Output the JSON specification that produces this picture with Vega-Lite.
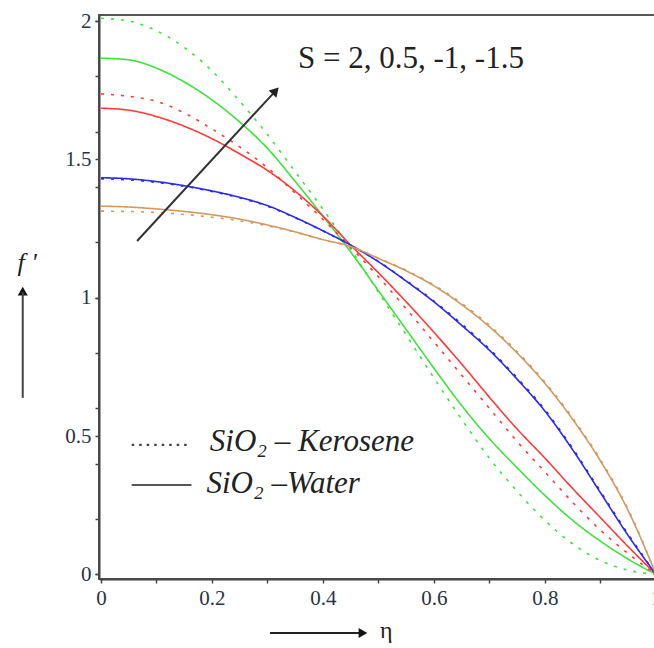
{
  "$schema": "https://vega.github.io/schema/vega-lite/v6.json",
  "width": 557,
  "height": 564,
  "autosize": {"type": "none"},
  "padding": {"left": 99, "top": 15, "right": 0, "bottom": 69},
  "background": "white",
  "config": {
    "font": "Liberation Serif",
    "view": {"stroke": "#555", "strokeWidth": 2},
    "axis": {"labelOverlap": false, "labelSeparation": 0, "labelBound": false, "grid": false}
  },
  "datasets": {
    "curves": [
      {"S": "-1.5", "fluid": "Kerosene", "eta": 0.0, "f": 2.01},
      {"S": "-1.5", "fluid": "Kerosene", "eta": 0.05, "f": 2.0},
      {"S": "-1.5", "fluid": "Kerosene", "eta": 0.1, "f": 1.965},
      {"S": "-1.5", "fluid": "Kerosene", "eta": 0.15, "f": 1.905},
      {"S": "-1.5", "fluid": "Kerosene", "eta": 0.2, "f": 1.82},
      {"S": "-1.5", "fluid": "Kerosene", "eta": 0.25, "f": 1.71},
      {"S": "-1.5", "fluid": "Kerosene", "eta": 0.3, "f": 1.59},
      {"S": "-1.5", "fluid": "Kerosene", "eta": 0.35, "f": 1.455},
      {"S": "-1.5", "fluid": "Kerosene", "eta": 0.4, "f": 1.32},
      {"S": "-1.5", "fluid": "Kerosene", "eta": 0.45, "f": 1.175},
      {"S": "-1.5", "fluid": "Kerosene", "eta": 0.5, "f": 1.02},
      {"S": "-1.5", "fluid": "Kerosene", "eta": 0.55, "f": 0.865},
      {"S": "-1.5", "fluid": "Kerosene", "eta": 0.6, "f": 0.71},
      {"S": "-1.5", "fluid": "Kerosene", "eta": 0.65, "f": 0.56},
      {"S": "-1.5", "fluid": "Kerosene", "eta": 0.7, "f": 0.42},
      {"S": "-1.5", "fluid": "Kerosene", "eta": 0.75, "f": 0.3},
      {"S": "-1.5", "fluid": "Kerosene", "eta": 0.8, "f": 0.195},
      {"S": "-1.5", "fluid": "Kerosene", "eta": 0.85, "f": 0.11},
      {"S": "-1.5", "fluid": "Kerosene", "eta": 0.9, "f": 0.05},
      {"S": "-1.5", "fluid": "Kerosene", "eta": 0.95, "f": 0.015},
      {"S": "-1.5", "fluid": "Kerosene", "eta": 1.0, "f": 0.0},
      {"S": "-1.5", "fluid": "Water", "eta": 0.0, "f": 1.866},
      {"S": "-1.5", "fluid": "Water", "eta": 0.05, "f": 1.86},
      {"S": "-1.5", "fluid": "Water", "eta": 0.1, "f": 1.83},
      {"S": "-1.5", "fluid": "Water", "eta": 0.15, "f": 1.78},
      {"S": "-1.5", "fluid": "Water", "eta": 0.2, "f": 1.715},
      {"S": "-1.5", "fluid": "Water", "eta": 0.25, "f": 1.635},
      {"S": "-1.5", "fluid": "Water", "eta": 0.3, "f": 1.54},
      {"S": "-1.5", "fluid": "Water", "eta": 0.35, "f": 1.42},
      {"S": "-1.5", "fluid": "Water", "eta": 0.4, "f": 1.295},
      {"S": "-1.5", "fluid": "Water", "eta": 0.45, "f": 1.165},
      {"S": "-1.5", "fluid": "Water", "eta": 0.5, "f": 1.025},
      {"S": "-1.5", "fluid": "Water", "eta": 0.55, "f": 0.885},
      {"S": "-1.5", "fluid": "Water", "eta": 0.6, "f": 0.745},
      {"S": "-1.5", "fluid": "Water", "eta": 0.65, "f": 0.61},
      {"S": "-1.5", "fluid": "Water", "eta": 0.7, "f": 0.49},
      {"S": "-1.5", "fluid": "Water", "eta": 0.75, "f": 0.385},
      {"S": "-1.5", "fluid": "Water", "eta": 0.8, "f": 0.285},
      {"S": "-1.5", "fluid": "Water", "eta": 0.85, "f": 0.195},
      {"S": "-1.5", "fluid": "Water", "eta": 0.9, "f": 0.12},
      {"S": "-1.5", "fluid": "Water", "eta": 0.95, "f": 0.055},
      {"S": "-1.5", "fluid": "Water", "eta": 1.0, "f": 0.0},
      {"S": "-1", "fluid": "Kerosene", "eta": 0.0, "f": 1.737},
      {"S": "-1", "fluid": "Kerosene", "eta": 0.05, "f": 1.728},
      {"S": "-1", "fluid": "Kerosene", "eta": 0.1, "f": 1.71},
      {"S": "-1", "fluid": "Kerosene", "eta": 0.15, "f": 1.668},
      {"S": "-1", "fluid": "Kerosene", "eta": 0.2, "f": 1.61},
      {"S": "-1", "fluid": "Kerosene", "eta": 0.25, "f": 1.545},
      {"S": "-1", "fluid": "Kerosene", "eta": 0.3, "f": 1.47},
      {"S": "-1", "fluid": "Kerosene", "eta": 0.35, "f": 1.378},
      {"S": "-1", "fluid": "Kerosene", "eta": 0.4, "f": 1.283},
      {"S": "-1", "fluid": "Kerosene", "eta": 0.45, "f": 1.182},
      {"S": "-1", "fluid": "Kerosene", "eta": 0.5, "f": 1.075},
      {"S": "-1", "fluid": "Kerosene", "eta": 0.55, "f": 0.96},
      {"S": "-1", "fluid": "Kerosene", "eta": 0.6, "f": 0.84},
      {"S": "-1", "fluid": "Kerosene", "eta": 0.65, "f": 0.72},
      {"S": "-1", "fluid": "Kerosene", "eta": 0.7, "f": 0.6},
      {"S": "-1", "fluid": "Kerosene", "eta": 0.75, "f": 0.48},
      {"S": "-1", "fluid": "Kerosene", "eta": 0.8, "f": 0.37},
      {"S": "-1", "fluid": "Kerosene", "eta": 0.85, "f": 0.26},
      {"S": "-1", "fluid": "Kerosene", "eta": 0.9, "f": 0.16},
      {"S": "-1", "fluid": "Kerosene", "eta": 0.95, "f": 0.075},
      {"S": "-1", "fluid": "Kerosene", "eta": 1.0, "f": 0.0},
      {"S": "-1", "fluid": "Water", "eta": 0.0, "f": 1.685},
      {"S": "-1", "fluid": "Water", "eta": 0.05, "f": 1.678},
      {"S": "-1", "fluid": "Water", "eta": 0.1, "f": 1.655},
      {"S": "-1", "fluid": "Water", "eta": 0.15, "f": 1.62},
      {"S": "-1", "fluid": "Water", "eta": 0.2, "f": 1.575},
      {"S": "-1", "fluid": "Water", "eta": 0.25, "f": 1.52},
      {"S": "-1", "fluid": "Water", "eta": 0.3, "f": 1.46},
      {"S": "-1", "fluid": "Water", "eta": 0.35, "f": 1.385},
      {"S": "-1", "fluid": "Water", "eta": 0.4, "f": 1.295},
      {"S": "-1", "fluid": "Water", "eta": 0.45, "f": 1.19},
      {"S": "-1", "fluid": "Water", "eta": 0.5, "f": 1.09},
      {"S": "-1", "fluid": "Water", "eta": 0.55, "f": 0.985},
      {"S": "-1", "fluid": "Water", "eta": 0.6, "f": 0.875},
      {"S": "-1", "fluid": "Water", "eta": 0.65, "f": 0.76},
      {"S": "-1", "fluid": "Water", "eta": 0.7, "f": 0.64},
      {"S": "-1", "fluid": "Water", "eta": 0.75, "f": 0.525},
      {"S": "-1", "fluid": "Water", "eta": 0.8, "f": 0.42},
      {"S": "-1", "fluid": "Water", "eta": 0.85, "f": 0.31},
      {"S": "-1", "fluid": "Water", "eta": 0.9, "f": 0.205},
      {"S": "-1", "fluid": "Water", "eta": 0.95, "f": 0.1},
      {"S": "-1", "fluid": "Water", "eta": 1.0, "f": 0.0},
      {"S": "0.5", "fluid": "Kerosene", "eta": 0.0, "f": 1.43},
      {"S": "0.5", "fluid": "Kerosene", "eta": 0.05, "f": 1.426},
      {"S": "0.5", "fluid": "Kerosene", "eta": 0.1, "f": 1.417},
      {"S": "0.5", "fluid": "Kerosene", "eta": 0.15, "f": 1.403},
      {"S": "0.5", "fluid": "Kerosene", "eta": 0.2, "f": 1.384},
      {"S": "0.5", "fluid": "Kerosene", "eta": 0.25, "f": 1.361},
      {"S": "0.5", "fluid": "Kerosene", "eta": 0.3, "f": 1.331},
      {"S": "0.5", "fluid": "Kerosene", "eta": 0.35, "f": 1.289},
      {"S": "0.5", "fluid": "Kerosene", "eta": 0.4, "f": 1.241},
      {"S": "0.5", "fluid": "Kerosene", "eta": 0.45, "f": 1.19},
      {"S": "0.5", "fluid": "Kerosene", "eta": 0.5, "f": 1.131},
      {"S": "0.5", "fluid": "Kerosene", "eta": 0.55, "f": 1.062},
      {"S": "0.5", "fluid": "Kerosene", "eta": 0.6, "f": 0.988},
      {"S": "0.5", "fluid": "Kerosene", "eta": 0.65, "f": 0.905},
      {"S": "0.5", "fluid": "Kerosene", "eta": 0.7, "f": 0.815},
      {"S": "0.5", "fluid": "Kerosene", "eta": 0.75, "f": 0.71},
      {"S": "0.5", "fluid": "Kerosene", "eta": 0.8, "f": 0.595},
      {"S": "0.5", "fluid": "Kerosene", "eta": 0.85, "f": 0.455},
      {"S": "0.5", "fluid": "Kerosene", "eta": 0.9, "f": 0.3},
      {"S": "0.5", "fluid": "Kerosene", "eta": 0.95, "f": 0.145},
      {"S": "0.5", "fluid": "Kerosene", "eta": 1.0, "f": 0.0},
      {"S": "0.5", "fluid": "Water", "eta": 0.0, "f": 1.434},
      {"S": "0.5", "fluid": "Water", "eta": 0.05, "f": 1.43},
      {"S": "0.5", "fluid": "Water", "eta": 0.1, "f": 1.42},
      {"S": "0.5", "fluid": "Water", "eta": 0.15, "f": 1.405},
      {"S": "0.5", "fluid": "Water", "eta": 0.2, "f": 1.386},
      {"S": "0.5", "fluid": "Water", "eta": 0.25, "f": 1.363},
      {"S": "0.5", "fluid": "Water", "eta": 0.3, "f": 1.333},
      {"S": "0.5", "fluid": "Water", "eta": 0.35, "f": 1.29},
      {"S": "0.5", "fluid": "Water", "eta": 0.4, "f": 1.242},
      {"S": "0.5", "fluid": "Water", "eta": 0.45, "f": 1.19},
      {"S": "0.5", "fluid": "Water", "eta": 0.5, "f": 1.13},
      {"S": "0.5", "fluid": "Water", "eta": 0.55, "f": 1.06},
      {"S": "0.5", "fluid": "Water", "eta": 0.6, "f": 0.985},
      {"S": "0.5", "fluid": "Water", "eta": 0.65, "f": 0.9},
      {"S": "0.5", "fluid": "Water", "eta": 0.7, "f": 0.81},
      {"S": "0.5", "fluid": "Water", "eta": 0.75, "f": 0.705},
      {"S": "0.5", "fluid": "Water", "eta": 0.8, "f": 0.59},
      {"S": "0.5", "fluid": "Water", "eta": 0.85, "f": 0.45},
      {"S": "0.5", "fluid": "Water", "eta": 0.9, "f": 0.295},
      {"S": "0.5", "fluid": "Water", "eta": 0.95, "f": 0.14},
      {"S": "0.5", "fluid": "Water", "eta": 1.0, "f": 0.0},
      {"S": "2", "fluid": "Kerosene", "eta": 0.0, "f": 1.313},
      {"S": "2", "fluid": "Kerosene", "eta": 0.05, "f": 1.312},
      {"S": "2", "fluid": "Kerosene", "eta": 0.1, "f": 1.308},
      {"S": "2", "fluid": "Kerosene", "eta": 0.15, "f": 1.301},
      {"S": "2", "fluid": "Kerosene", "eta": 0.2, "f": 1.291},
      {"S": "2", "fluid": "Kerosene", "eta": 0.25, "f": 1.278},
      {"S": "2", "fluid": "Kerosene", "eta": 0.3, "f": 1.26},
      {"S": "2", "fluid": "Kerosene", "eta": 0.35, "f": 1.237},
      {"S": "2", "fluid": "Kerosene", "eta": 0.4, "f": 1.21},
      {"S": "2", "fluid": "Kerosene", "eta": 0.45, "f": 1.185},
      {"S": "2", "fluid": "Kerosene", "eta": 0.5, "f": 1.143},
      {"S": "2", "fluid": "Kerosene", "eta": 0.55, "f": 1.099},
      {"S": "2", "fluid": "Kerosene", "eta": 0.6, "f": 1.046},
      {"S": "2", "fluid": "Kerosene", "eta": 0.65, "f": 0.98},
      {"S": "2", "fluid": "Kerosene", "eta": 0.7, "f": 0.9},
      {"S": "2", "fluid": "Kerosene", "eta": 0.75, "f": 0.805},
      {"S": "2", "fluid": "Kerosene", "eta": 0.8, "f": 0.695},
      {"S": "2", "fluid": "Kerosene", "eta": 0.85, "f": 0.565},
      {"S": "2", "fluid": "Kerosene", "eta": 0.9, "f": 0.415},
      {"S": "2", "fluid": "Kerosene", "eta": 0.95, "f": 0.235},
      {"S": "2", "fluid": "Kerosene", "eta": 1.0, "f": 0.0},
      {"S": "2", "fluid": "Water", "eta": 0.0, "f": 1.331},
      {"S": "2", "fluid": "Water", "eta": 0.05, "f": 1.328},
      {"S": "2", "fluid": "Water", "eta": 0.1, "f": 1.321},
      {"S": "2", "fluid": "Water", "eta": 0.15, "f": 1.312},
      {"S": "2", "fluid": "Water", "eta": 0.2, "f": 1.3},
      {"S": "2", "fluid": "Water", "eta": 0.25, "f": 1.284},
      {"S": "2", "fluid": "Water", "eta": 0.3, "f": 1.263},
      {"S": "2", "fluid": "Water", "eta": 0.35, "f": 1.238},
      {"S": "2", "fluid": "Water", "eta": 0.4, "f": 1.21},
      {"S": "2", "fluid": "Water", "eta": 0.45, "f": 1.185},
      {"S": "2", "fluid": "Water", "eta": 0.5, "f": 1.142},
      {"S": "2", "fluid": "Water", "eta": 0.55, "f": 1.097},
      {"S": "2", "fluid": "Water", "eta": 0.6, "f": 1.043},
      {"S": "2", "fluid": "Water", "eta": 0.65, "f": 0.975},
      {"S": "2", "fluid": "Water", "eta": 0.7, "f": 0.895},
      {"S": "2", "fluid": "Water", "eta": 0.75, "f": 0.8},
      {"S": "2", "fluid": "Water", "eta": 0.8, "f": 0.69},
      {"S": "2", "fluid": "Water", "eta": 0.85, "f": 0.56},
      {"S": "2", "fluid": "Water", "eta": 0.9, "f": 0.41},
      {"S": "2", "fluid": "Water", "eta": 0.95, "f": 0.23},
      {"S": "2", "fluid": "Water", "eta": 1.0, "f": 0.0}
    ]
  },
  "resolve": {"axis": {"y": "independent"}},
  "layer": [
    {
      "layer": [
        {
          "data": {"name": "curves"},
          "mark": {"type": "line", "strokeWidth": 1.6, "interpolate": "monotone"},
          "encoding": {
            "x": {
              "field": "eta", "type": "quantitative",
              "scale": {"domain": [-0.0036, 1.0], "nice": false, "zero": false},
              "axis": {
                "title": null, "grid": false,
                "values": [0, 0.1, 0.2, 0.3, 0.4, 0.5, 0.6, 0.7, 0.8, 0.9, 1.0],
                "format": ".1~f",
                "labelExpr": "round(datum.value*10) % 2 == 0 ? datum.label : ''",
                "domainColor": "#444", "domainWidth": 2,
                "tickColor": "#444", "tickWidth": 1.5, "tickSize": 4,
                "labelFontSize": 21, "labelColor": "#2a3346", "labelPadding": 4,
                "labelFlush": false, "labelOverlap": false
              }
            },
            "y": {
              "field": "f", "type": "quantitative",
              "scale": {"domain": [-0.0166, 2.022], "nice": false, "zero": false},
              "axis": {
                "title": null, "grid": false, "labels": false,
                "values": [0, 0.1, 0.2, 0.3, 0.4, 0.5, 0.6, 0.7, 0.8, 0.9, 1.0, 1.1, 1.2, 1.3, 1.4, 1.5, 1.6, 1.7, 1.8, 1.9, 2.0],
                "domainColor": "#444", "domainWidth": 2,
                "tickColor": "#444", "tickWidth": 1.5, "tickSize": 4
              }
            },
            "color": {
              "field": "S", "type": "nominal",
              "scale": {"domain": ["2", "0.5", "-1", "-1.5"], "range": ["#d09a62", "#2a2af0", "#ff3a3a", "#3ee23e"]},
              "legend": null
            },
            "strokeDash": {
              "field": "fluid", "type": "nominal",
              "scale": {"domain": ["Kerosene", "Water"], "range": [[3, 7], [1, 0]]},
              "legend": null
            }
          }
        },
        {
          "data": {"values": [{}]},
          "mark": {"type": "rule", "color": "#333", "strokeWidth": 2},
          "encoding": {
            "x": {"datum": 0.065, "type": "quantitative"},
            "y": {"datum": 1.205, "type": "quantitative"},
            "x2": {"datum": 0.3146},
            "y2": {"datum": 1.748}
          }
        },
        {
          "data": {"values": [{}]},
          "mark": {"type": "point", "shape": "triangle-up", "filled": true, "color": "#222", "opacity": 1, "size": 110, "angle": 42.7},
          "encoding": {
            "x": {"datum": 0.3146, "type": "quantitative"},
            "y": {"datum": 1.748, "type": "quantitative"}
          }
        },
        {
          "data": {"values": [{}]},
          "mark": {"type": "text", "text": "S = 2, 0.5, -1, -1.5", "fontSize": 31, "align": "left", "baseline": "middle", "color": "#222"},
          "encoding": {
            "x": {"datum": 0.355, "type": "quantitative"},
            "y": {"datum": 1.863, "type": "quantitative"}
          }
        },
        {
          "data": {"values": [{}]},
          "mark": {"type": "rule", "color": "#444", "strokeWidth": 2.2, "strokeDash": [2.5, 5]},
          "encoding": {
            "x": {"datum": 0.0553, "type": "quantitative"},
            "y": {"datum": 0.468, "type": "quantitative"},
            "x2": {"datum": 0.16}
          }
        },
        {
          "data": {"values": [{}]},
          "mark": {"type": "rule", "color": "#555", "strokeWidth": 2},
          "encoding": {
            "x": {"datum": 0.0553, "type": "quantitative"},
            "y": {"datum": 0.323, "type": "quantitative"},
            "x2": {"datum": 0.163}
          }
        },
        {
          "data": {"values": [{}]},
          "mark": {"type": "text", "text": "SiO₂ – Kerosene", "fontSize": 31, "fontStyle": "italic", "align": "left", "baseline": "middle", "color": "#222"},
          "encoding": {
            "x": {"datum": 0.196, "type": "quantitative"},
            "y": {"datum": 0.478, "type": "quantitative"}
          }
        },
        {
          "data": {"values": [{}]},
          "mark": {"type": "text", "text": "SiO₂ –Water", "fontSize": 31, "fontStyle": "italic", "align": "left", "baseline": "middle", "color": "#222"},
          "encoding": {
            "x": {"datum": 0.19, "type": "quantitative"},
            "y": {"datum": 0.325, "type": "quantitative"}
          }
        },
        {
          "data": {"values": [{}]},
          "mark": {"type": "point", "shape": "triangle-up", "filled": true, "color": "#111", "opacity": 1, "size": 100},
          "encoding": {
            "x": {"datum": -0.141, "type": "quantitative"},
            "y": {"datum": 1.024, "type": "quantitative"}
          }
        },
        {
          "data": {"values": [{}]},
          "mark": {"type": "text", "text": "f '", "fontSize": 26, "fontStyle": "italic", "align": "center", "baseline": "middle", "color": "#222"},
          "encoding": {
            "x": {"datum": -0.133, "type": "quantitative"},
            "y": {"datum": 1.125, "type": "quantitative"}
          }
        },
        {
          "data": {"values": [{}]},
          "mark": {"type": "rule", "color": "#222", "strokeWidth": 2},
          "encoding": {
            "x": {"datum": 0.3045, "type": "quantitative"},
            "y": {"datum": -0.212, "type": "quantitative"},
            "x2": {"datum": 0.47}
          }
        },
        {
          "data": {"values": [{}]},
          "mark": {"type": "point", "shape": "triangle-right", "filled": true, "color": "#111", "opacity": 1, "size": 100},
          "encoding": {
            "x": {"datum": 0.472, "type": "quantitative"},
            "y": {"datum": -0.212, "type": "quantitative"}
          }
        },
        {
          "data": {"values": [{}]},
          "mark": {"type": "text", "text": "η", "fontSize": 24, "align": "center", "baseline": "middle", "color": "#222"},
          "encoding": {
            "x": {"datum": 0.514, "type": "quantitative"},
            "y": {"datum": -0.205, "type": "quantitative"}
          }
        }
      ]
    },
    {
      "data": {"values": [{}]},
      "mark": {"type": "rule", "color": "#444", "strokeWidth": 2},
      "encoding": {
        "x": {"datum": -0.141, "type": "quantitative"},
        "y": {
          "datum": 0.638, "type": "quantitative",
          "axis": {
            "orient": "left", "title": null, "grid": false,
            "values": [0, 0.5, 1, 1.5, 2],
            "format": ".1~f",
            "domain": false,
            "tickColor": "#444", "tickWidth": 1.5, "tickSize": 4,
            "labelFontSize": 21, "labelColor": "#2a3346", "labelPadding": 4,
            "labelFlush": false, "labelOverlap": false
          }
        },
        "y2": {"datum": 1.02}
      }
    }
  ]
}
